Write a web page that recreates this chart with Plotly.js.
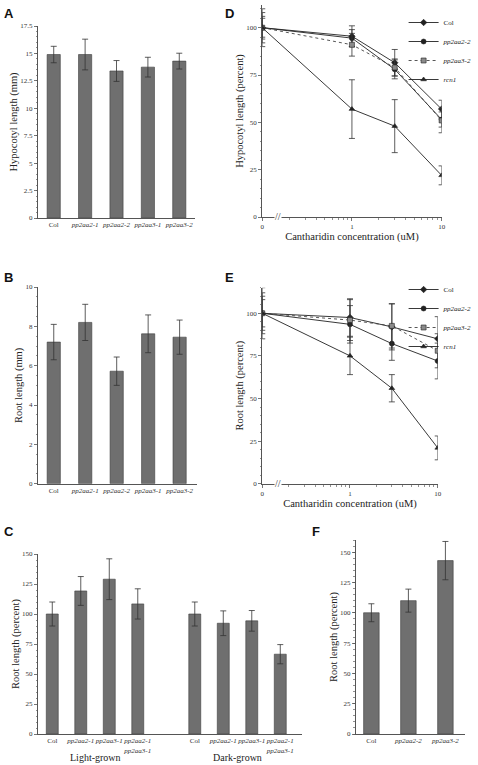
<!DOCTYPE html>
<html>
<head>
<meta charset="utf-8">
<script src="https://cdn.plot.ly/plotly-3.0.1.min.js"></script>
<style>
  html, body { margin: 0; padding: 0; background: #fff; }
  #chart { width: 478px; height: 765px; }
</style>
</head>
<body>
<div id="chart"></div>
<script>
// ---------- DATA ----------
// Panel A: hypocotyl length (mm)
const A_cats = ['Col', 'pp2aa2-1', 'pp2aa2-2', 'pp2aa3-1', 'pp2aa3-2'];
const A_vals = [14.9, 14.9, 13.4, 13.75, 14.3];
const A_err  = [0.75, 1.4, 0.95, 0.9, 0.72];

// Panel B: root length (mm)
const B_cats = ['Col', 'pp2aa2-1', 'pp2aa2-2', 'pp2aa3-1', 'pp2aa3-2'];
const B_vals = [7.2, 8.2, 5.72, 7.62, 7.45];
const B_err  = [0.9, 0.92, 0.72, 0.96, 0.87];

// Panel C: root length (percent), light- and dark-grown
const C_cats = ['Col', 'pp2aa2-1', 'pp2aa3-1', 'pp2aa2-1<br>pp2aa3-1'];
const C_light = [100, 119.2, 129, 108.4];
const C_light_err = [10, 12, 17, 12.6];
const C_dark = [100, 92.3, 94.3, 66.5];
const C_dark_err = [10, 10.3, 8.6, 8];
const C_groups = ['Light-grown', 'Dark-grown'];

// Panel D: hypocotyl length (percent) vs cantharidin
const conc = [0, 1, 3, 10];
const D_col   = [100, 95.5, 81.5, 57];
const D_col_err = [10, 5.5, 7, 4.7];
const D_a22   = [100, 94.5, 78, 51.5];
const D_a22_err = [8, 4.5, 5, 4];
const D_a32   = [100, 91, 79, 51];
const D_a32_err = [6, 6, 4.5, 6.5];
const D_rcn1  = [100, 57, 48, 22];
const D_rcn1_err = [5, 15.5, 14, 5];

// Panel E: root length (percent) vs cantharidin
const E_col   = [100, 97.5, 92, 85];
const E_col_err = [15, 11, 13.5, 13];
const E_a22   = [100, 93.5, 82.2, 72];
const E_a22_err = [12, 11, 9.8, 10.5];
const E_a32   = [100, 96, 92.6, 78];
const E_a32_err = [10, 12, 13, 10];
const E_rcn1  = [100, 75, 56, 21];
const E_rcn1_err = [8, 11, 8, 7];

// Panel F: root length (percent)
const F_cats = ['Col', 'pp2aa2-2', 'pp2aa3-2'];
const F_vals = [100, 110, 143];
const F_err  = [7.4, 9.5, 15.8];

const seriesNames = ['Col', 'pp2aa2-2', 'pp2aa3-2', 'rcn1'];

// ---------- STYLE ----------
const SERIF = 'Liberation Serif, Times New Roman, serif';
const BAR_FILL = '#6f6f6f';
const BAR_LINE = '#3c3c3c';
const INK = '#333333';
const ZERO_POS = 0.1; // where concentration 0 is drawn on the broken log axis

const italic = s => (s === 'Col' ? s : '<i>' + s + '</i>');
const idx = arr => arr.map((_, i) => i);
const concPos = conc.map(c => (c === 0 ? ZERO_POS : c));

function barTrace(xs, ys, errs, xa, ya) {
  return {
    type: 'bar', x: xs, y: ys, xaxis: xa, yaxis: ya, width: 0.42,
    marker: { color: BAR_FILL, line: { color: BAR_LINE, width: 0.6 } },
    error_y: { type: 'data', array: errs, visible: true, color: INK, thickness: 0.8, width: 3 },
    showlegend: false, hoverinfo: 'skip'
  };
}

const lineStyles = [
  { symbol: 'diamond', color: '#222', dash: 'solid', mcolor: '#222' },
  { symbol: 'circle', color: '#222', dash: 'solid', mcolor: '#222' },
  { symbol: 'square', color: '#444', dash: 'dot', mcolor: '#8a8a8a' },
  { symbol: 'triangle-up', color: '#222', dash: 'solid', mcolor: '#222' }
];

function lineTrace(ys, errs, k, xa, ya, legend, showlegend) {
  const st = lineStyles[k];
  return {
    type: 'scatter', mode: 'lines+markers', x: concPos, y: ys, xaxis: xa, yaxis: ya,
    name: italic(seriesNames[k]), legend: legend, showlegend: showlegend,
    line: { color: st.color, width: 0.9, dash: st.dash },
    marker: { symbol: st.symbol, size: 5, color: st.mcolor, line: { color: '#222', width: 0.6 } },
    error_y: { type: 'data', array: errs, visible: true, color: INK, thickness: 0.8, width: 3 },
    hoverinfo: 'skip'
  };
}

const traces = [];
traces.push(barTrace(idx(A_cats), A_vals, A_err, 'x', 'y'));
traces.push(barTrace(idx(B_cats), B_vals, B_err, 'x2', 'y2'));
const C_lightPos = idx(C_cats);
const C_darkPos = idx(C_cats).map(i => i + C_cats.length + 1);
traces.push(barTrace(C_lightPos, C_light, C_light_err, 'x3', 'y3'));
traces.push(barTrace(C_darkPos, C_dark, C_dark_err, 'x3', 'y3'));
[D_col, D_a22, D_a32, D_rcn1].forEach((ys, k) =>
  traces.push(lineTrace(ys, [D_col_err, D_a22_err, D_a32_err, D_rcn1_err][k], k, 'x4', 'y4', 'legend', true)));
[E_col, E_a22, E_a32, E_rcn1].forEach((ys, k) =>
  traces.push(lineTrace(ys, [E_col_err, E_a22_err, E_a32_err, E_rcn1_err][k], k, 'x5', 'y5', 'legend2', true)));
traces.push(barTrace(idx(F_cats), F_vals, F_err, 'x6', 'y6'));

// ---------- AXES ----------
const W = 478, H = 765;
const px = v => v / W;
const py = v => 1 - v / H;

function baseAxis(extra) {
  return Object.assign({
    showline: true, linecolor: '#555', linewidth: 1,
    ticks: 'outside', ticklen: 3, tickwidth: 0.8, tickcolor: '#555',
    tickfont: { family: SERIF, size: 7, color: INK },
    showgrid: false, zeroline: false, automargin: false, fixedrange: true, tickangle: 0
  }, extra);
}
function yTitle(text, standoff) {
  return { text: text, font: { family: SERIF, size: 10.5, color: '#222' }, standoff: standoff };
}
function catAxis(cats, domain, range, anchor) {
  return baseAxis({
    domain: domain, anchor: anchor, range: range,
    tickmode: 'array', tickvals: idx(cats), ticktext: cats.map(italic), ticks: ''
  });
}

const logMinor = [0.2, 0.3, 0.4, 0.5, 0.6, 0.7, 0.8, 0.9, 2, 3, 4, 5, 6, 7, 8, 9];
const xTitle = { text: 'Cantharidin concentration (uM)', font: { family: SERIF, size: 10.5, color: '#222' }, standoff: 0 };

const layout = {
  width: W, height: H,
  margin: { l: 0, r: 0, t: 0, b: 0 },
  paper_bgcolor: '#fff', plot_bgcolor: 'rgba(0,0,0,0)',
  font: { family: SERIF, color: INK },
  barmode: 'overlay',

  xaxis: catAxis(A_cats, [px(39), px(200)], [-0.5, 4.5], 'y'),
  yaxis: baseAxis({ domain: [py(218), py(26)], anchor: 'x', range: [0, 17.5],
    tickvals: [0, 2.5, 5, 7.5, 10, 12.5, 15, 17.5],
    minor: { dtick: 0.5, ticks: 'outside', ticklen: 1.5, tickcolor: '#777' },
    title: yTitle('Hypocotyl length (mm)', 0) }),

  xaxis2: catAxis(B_cats, [px(39), px(202)], [-0.5, 4.55], 'y2'),
  yaxis2: baseAxis({ domain: [py(483.7), py(287)], anchor: 'x2', range: [0, 10], dtick: 2,
    minor: { dtick: 0.5, ticks: 'outside', ticklen: 1.5, tickcolor: '#777' },
    title: yTitle('Root length (mm)', 0) }),

  xaxis3: baseAxis({ domain: [px(39), px(310)], anchor: 'y3', range: [-0.5, 8.77],
    tickmode: 'array', tickvals: C_lightPos.concat(C_darkPos),
    ticktext: C_cats.concat(C_cats).map(s => s.split('<br>').map(italic).join('<br>')), ticks: '' }),
  yaxis3: baseAxis({ domain: [py(734), py(554)], anchor: 'x3', range: [0, 150], dtick: 25,
    minor: { dtick: 5, ticks: 'outside', ticklen: 1.5, tickcolor: '#777' },
    title: yTitle('Root length (percent)', 0) }),

  xaxis4: baseAxis({ domain: [px(269), px(453)], anchor: 'y4', type: 'log', range: [-1, 1.0],
    tickmode: 'array', tickvals: [ZERO_POS, 1, 10], ticktext: ['0', '1', '10'],
    minor: { tickmode: 'array', tickvals: logMinor, ticks: 'outside', ticklen: 2, tickcolor: '#777' },
    title: xTitle }),
  yaxis4: baseAxis({ domain: [py(217), py(5)], anchor: 'x4', range: [0, 112], dtick: 25,
    minor: { dtick: 5, ticks: 'outside', ticklen: 1.5, tickcolor: '#777' },
    title: yTitle('Hypocotyl length (percent)', 0) }),

  xaxis5: baseAxis({ domain: [px(269), px(449)], anchor: 'y5', type: 'log', range: [-1, 1.0],
    tickmode: 'array', tickvals: [ZERO_POS, 1, 10], ticktext: ['0', '1', '10'],
    minor: { tickmode: 'array', tickvals: logMinor, ticks: 'outside', ticklen: 2, tickcolor: '#777' },
    title: xTitle }),
  yaxis5: baseAxis({ domain: [py(483.7), py(287.7)], anchor: 'x5', range: [0, 115], dtick: 25,
    minor: { dtick: 5, ticks: 'outside', ticklen: 1.5, tickcolor: '#777' },
    title: yTitle('Root length (percent)', 0) }),

  xaxis6: catAxis(F_cats, [px(365), px(477)], [-0.42, 2.53], 'y6'),
  yaxis6: baseAxis({ domain: [py(734), py(540)], anchor: 'x6', range: [0, 160],
    tickvals: [0, 25, 50, 75, 100, 125, 150],
    minor: { dtick: 5, ticks: 'outside', ticklen: 1.5, tickcolor: '#777' },
    title: yTitle('Root length (percent)', 0) }),

  legend: {
    x: px(414), y: py(8), xanchor: 'left', yanchor: 'top',
    bgcolor: 'rgba(255,255,255,0)', borderwidth: 0,
    font: { family: SERIF, size: 7, color: '#222' }, itemwidth: 30, tracegroupgap: 0
  },
  legend2: {
    x: px(414), y: py(275), xanchor: 'left', yanchor: 'top',
    bgcolor: 'rgba(255,255,255,0)', borderwidth: 0,
    font: { family: SERIF, size: 7, color: '#222' }, itemwidth: 30, tracegroupgap: 0
  },

  annotations: [
    ...[['A', 2, 4], ['D', 229, 4], ['B', 2, 268], ['E', 229, 268], ['C', 2, 522], ['F', 318, 522]].map(([t, x, y]) => ({
      text: '<b>' + t + '</b>', xref: 'paper', yref: 'paper', x: px(x), y: py(y),
      xanchor: 'left', yanchor: 'top', showarrow: false,
      font: { family: 'Liberation Sans, Arial, sans-serif', size: 13, color: '#111' }
    })),
    { text: C_groups[0], xref: 'x3', yref: 'paper', x: (C_lightPos[0] + C_lightPos[C_lightPos.length - 1]) / 2, y: py(757),
      yanchor: 'middle', showarrow: false, font: { family: SERIF, size: 10, color: '#222' } },
    { text: C_groups[1], xref: 'x3', yref: 'paper', x: (C_darkPos[0] + C_darkPos[C_darkPos.length - 1]) / 2, y: py(757),
      yanchor: 'middle', showarrow: false, font: { family: SERIF, size: 10, color: '#222' } },
    { text: '//', xref: 'x4', yref: 'y4', x: Math.log10(0.15), y: 0, showarrow: false,
      font: { family: SERIF, size: 10, color: '#333' }, bgcolor: '#fff', borderpad: 0 },
    { text: '//', xref: 'x5', yref: 'y5', x: Math.log10(0.15), y: 0, showarrow: false,
      font: { family: SERIF, size: 10, color: '#333' }, bgcolor: '#fff', borderpad: 0 }
  ]
};

Plotly.newPlot('chart', traces, layout, { staticPlot: true, displayModeBar: false });
</script>
</body>
</html>
